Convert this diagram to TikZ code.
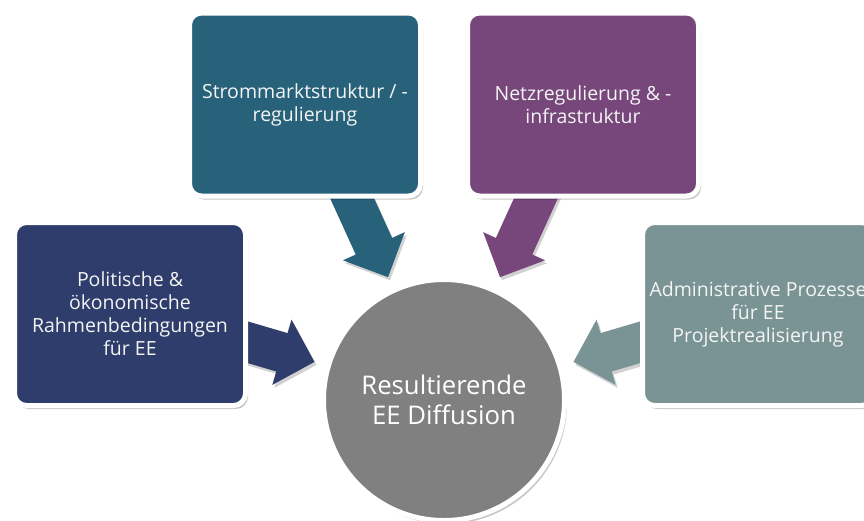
\documentclass[tikz,border=0pt]{standalone}
\usepackage{fontspec}
\setmainfont{Open Sans}
\usetikzlibrary{calc,shadows}
\definecolor{navy}{HTML}{2E3D6B}
\definecolor{tealbox}{HTML}{27617A}
\definecolor{purplebox}{HTML}{77477C}
\definecolor{graytealbox}{HTML}{7A9496}
\definecolor{circgray}{HTML}{808080}
\definecolor{txtcol}{HTML}{F4F4F4}
\begin{document}
\begin{tikzpicture}[x=1pt,y=-1pt,
  softshadow/.style={drop shadow={shadow xshift=2.5pt, shadow yshift=-3.5pt, opacity=0.22, fill=black}},
  arrowshadow/.style={drop shadow={shadow xshift=2pt, shadow yshift=-3pt, opacity=0.18, fill=black}},
  boxnode/.style={rectangle, rounded corners=12pt, draw=white, line width=5pt,
    minimum width=231pt, minimum height=183pt, inner sep=0pt, align=center,
    text=txtcol, font=\fontsize{19.5}{23}\selectfont, softshadow},
  hub/.style={circle, minimum size=241pt, inner sep=0pt, fill=circgray, draw=white,
    line width=5pt, align=center, text=white, font=\fontsize{25.7}{30}\selectfont, softshadow}
]
\useasboundingbox[fill=white] (0,0) rectangle (864,520);
\coordinate (cc) at (444,400);
% block arrows pointing to the hub
\foreach \a/\c in {196.4/navy, 245.5/tealbox, 294.5/purplebox, 343.6/graytealbox}{
  \fill[\c, arrowshadow]
    ($(cc)+(\a:135)$)
    -- ($(cc)+(\a:169)+(\a+90:34)$)
    -- ($(cc)+(\a:169)+(\a+90:20)$)
    -- ($(cc)+(\a:240)+(\a+90:20)$)
    -- ($(cc)+(\a:240)+(\a-90:20)$)
    -- ($(cc)+(\a:169)+(\a-90:20)$)
    -- ($(cc)+(\a:169)+(\a-90:34)$)
    -- cycle;
}
\node[boxnode, fill=navy] (pol) at (130,314) {Politische \&\\ökonomische\\Rahmenbedingungen\\für EE};
\node[boxnode, fill=tealbox] (strom) at (305,104.5) {Strommarktstruktur / -\\regulierung};
\node[boxnode, fill=purplebox] (netz) at (583,104.5) {Netzregulierung \& -\\infrastruktur};
\node[boxnode, fill=graytealbox] (adm) at (758,314) {Administrative Prozesse\\für EE\\Projektrealisierung};
\node[hub] (res) at (cc) {Resultierende\\EE Diffusion};
\end{tikzpicture}
\end{document}
